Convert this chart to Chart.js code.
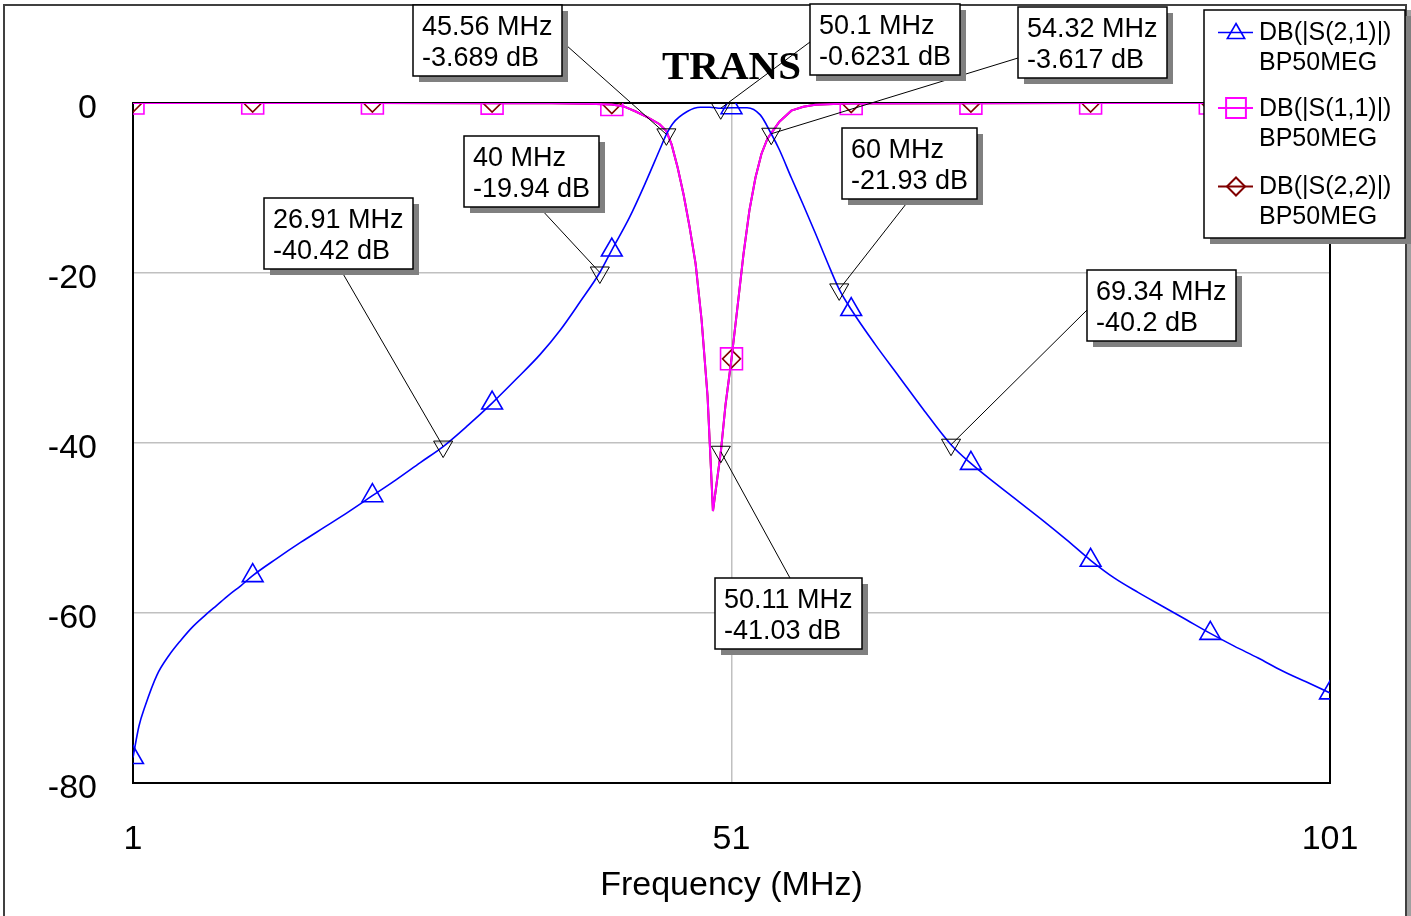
<!DOCTYPE html>
<html>
<head>
<meta charset="utf-8">
<title>TRANS</title>
<script src="https://cdn.jsdelivr.net/npm/chart.js@4.4.1/dist/chart.umd.min.js"></script>
<style>
    html, body { margin: 0; padding: 0; background: #fff; }
    canvas { display: block; }
</style>
</head>
<body>
<canvas id="trans-chart" width="1411" height="916"></canvas>
<script>
const xTicks = [1, 51, 101];
const yTicks = [0, -20, -40, -60, -80];

// DB(|S(2,1)|)
const s21Freq = [1, 1.5, 2, 3, 4, 5, 6, 7, 8, 9, 10,
    11, 13, 15, 17, 19, 21, 23, 25,
    26.91, 29, 31, 33, 35, 36.7, 38.3, 40,
    41, 42.5, 43.9, 45, 45.56, 46.1, 47.3, 48.4, 49.2, 50.1,
    51, 52.3, 53.4, 54.32, 55, 56, 57, 58, 59, 60,
    61, 63, 65, 67, 69.34, 71, 73, 75, 77, 79,
    81, 83, 85, 87, 89, 91, 93, 95, 97, 99, 101];
const s21Db = [-77.0, -73.3, -71.0, -67.3, -65.0, -63.2, -61.6, -60.3, -59.1, -57.9, -56.8,
    -55.6, -53.6, -51.7, -49.9, -48.1, -46.2, -44.3, -42.3,
    -40.42, -37.9, -35.3, -32.5, -29.6, -26.7, -23.5, -19.94,
    -17.3, -13.4, -9.1, -5.5, -3.689, -2.4, -1.0, -0.5, -0.5, -0.6231,
    -0.55, -0.55, -1.4, -3.617, -5.5, -8.8, -12.0, -15.3, -18.7, -21.93,
    -24.3, -28.4, -32.2, -36.0, -40.2, -42.4, -44.7, -46.9, -49.1, -51.4,
    -53.8, -55.9, -57.6, -59.2, -60.8, -62.4, -63.9, -65.3, -66.8, -68.1, -69.4];

// DB(|S(1,1)|)
const s11Freq = [1, 11, 21, 31, 36, 39, 41,
    42, 43, 44, 45, 45.56, 46, 46.5, 47, 47.5, 48,
    48.5, 49, 49.45, 50.11, 50.5, 51, 51.5, 52, 52.5, 53,
    53.5, 54, 54.5, 55, 56, 57, 58, 60, 61, 71,
    81, 91, 101];
const s11Db = [-0.01, -0.01, -0.01, -0.02, -0.04, -0.08, -0.18,
    -0.4, -1.0, -1.7, -2.5, -3.3, -4.9, -7.6, -10.8, -14.6, -18.9,
    -25.5, -34.5, -48.0, -41.03, -35.5, -30.1, -24.0, -17.8, -12.6, -8.8,
    -6.0, -4.2, -3.2, -2.2, -0.9, -0.45, -0.22, -0.1, -0.07, -0.02,
    -0.01, -0.01, -0.01];

// DB(|S(2,2)|) sits exactly under S(1,1) in the plot
const s22Freq = s11Freq.slice();
const s22Db = s11Db.slice();

const symbolFreqs = [1, 11, 21, 31, 41, 51, 61, 71, 81, 91, 101];

const markerFreq = [26.91, 40, 45.56, 50.1, 54.32, 60, 69.34, 50.11];
const markerDb = [-40.42, -19.94, -3.689, -0.6231, -3.617, -21.93, -40.2, -41.03];

const seriesNames = ['DB(|S(2,1)|)', 'DB(|S(1,1)|)', 'DB(|S(2,2)|)'];
const circuitName = 'BP50MEG';
const chartTitle = 'TRANS';
const xTitle = 'Frequency (MHz)';

// label box placement: [left, top, leaderX, leaderY]
const markerBoxes = [
    [264, 198, 342, 272],
    [464, 136, 540, 208],
    [413, 5, 566, 45],
    [810, 4, 810, 42],
    [1018, 7, 1018, 58],
    [842, 128, 906, 204],
    [1087, 270, 1087, 310],
    [715, 578, 790, 578],
];

const SANS = "'Liberation Sans', Arial, sans-serif";
const colors = { s21: '#0000ff', s11: '#ff00ff', s22: '#800000', grid: '#c0c0c0', shadow: '#808080' };

function points(freqs, dbs) {
    return freqs.map((f, i) => ({ x: f, y: dbs[i] }));
}

function symbolRadius(size) {
    return ctx => (ctx.raw && symbolFreqs.includes(ctx.raw.x)) ? size : 0;
}

function drawSymbol(ctx, style, x, y, r) {
    ctx.beginPath();
    if (style === 'triangle' || style === 'triangleDown') {
        const s = style === 'triangle' ? 1 : -1;
        const hw = r * Math.sqrt(3) / 2;
        ctx.moveTo(x, y - s * r);
        ctx.lineTo(x + hw, y + s * r / 2);
        ctx.lineTo(x - hw, y + s * r / 2);
        ctx.closePath();
    } else if (style === 'rect') {
        const h = r * Math.SQRT1_2;
        ctx.rect(x - h, y - h, 2 * h, 2 * h);
    } else if (style === 'rectRot') {
        ctx.moveTo(x - r, y);
        ctx.lineTo(x, y - r);
        ctx.lineTo(x + r, y);
        ctx.lineTo(x, y + r);
        ctx.closePath();
    }
    ctx.stroke();
}

const framePlugin = {
    id: 'frame',
    beforeDraw(chart) {
        const { ctx, width, height } = chart;
        ctx.save();
        ctx.fillStyle = '#fff';
        ctx.fillRect(0, 0, width, height);
        ctx.fillStyle = '#a0a0a0';
        ctx.fillRect(1407, 10, 4, height - 10);
        ctx.strokeStyle = '#404040';
        ctx.lineWidth = 2;
        ctx.strokeRect(4, 5, 1402, height + 10);
        ctx.restore();
    },
    beforeDatasetsDraw(chart) {
        const { ctx, chartArea: a } = chart;
        ctx.save();
        ctx.strokeStyle = '#000';
        ctx.lineWidth = 2;
        ctx.strokeRect(a.left, a.top, a.right - a.left, a.bottom - a.top);
        ctx.restore();
    },
};

const markerPlugin = {
    id: 'markers',
    afterDatasetsDraw(chart) {
        const { ctx, scales: { x, y } } = chart;
        ctx.save();
        ctx.strokeStyle = '#000';
        ctx.lineWidth = 1;
        const pts = markerFreq.map((f, i) => [x.getPixelForValue(f), y.getPixelForValue(markerDb[i])]);
        pts.forEach(([px, py], i) => {
            const [, , lx, ly] = markerBoxes[i];
            ctx.beginPath();
            ctx.moveTo(lx, ly);
            ctx.lineTo(px, py);
            ctx.stroke();
            drawSymbol(ctx, 'triangleDown', px, py, 11);
        });

        ctx.font = `27px ${SANS}`;
        ctx.textBaseline = 'middle';
        ctx.textAlign = 'left';
        markerFreq.forEach((f, i) => {
            const [bx, by] = markerBoxes[i];
            const lines = [`${f} MHz`, `${markerDb[i]} dB`];
            const w = Math.round(Math.max(...lines.map(t => ctx.measureText(t).width)) + 18);
            const h = 71;
            ctx.fillStyle = colors.shadow;
            ctx.fillRect(bx + 6, by + 6, w, h);
            ctx.fillStyle = '#fff';
            ctx.fillRect(bx, by, w, h);
            ctx.lineWidth = 1.5;
            ctx.strokeRect(bx, by, w, h);
            ctx.fillStyle = '#000';
            ctx.fillText(lines[0], bx + 9, by + 23);
            ctx.fillText(lines[1], bx + 9, by + 54);
        });
        ctx.restore();
    },
};

const legendPlugin = {
    id: 'plotLegend',
    afterDraw(chart) {
        const { ctx } = chart;
        const left = 1204, top = 10, w = 201, h = 228;
        ctx.save();
        ctx.fillStyle = colors.shadow;
        ctx.fillRect(left + 6, top + 6, w, h);
        ctx.fillStyle = '#fff';
        ctx.fillRect(left, top, w, h);
        ctx.strokeStyle = '#000';
        ctx.lineWidth = 1.5;
        ctx.strokeRect(left, top, w, h);

        const entries = [
            { color: colors.s21, style: 'triangle', r: 10, y: 32.5, width: 1.6 },
            { color: colors.s11, style: 'rect', r: 14, y: 108, width: 2 },
            { color: colors.s22, style: 'rectRot', r: 9, y: 186.5, width: 2 },
        ];
        ctx.font = `25px ${SANS}`;
        ctx.textBaseline = 'middle';
        entries.forEach((e, i) => {
            ctx.strokeStyle = e.color;
            ctx.lineWidth = e.width;
            ctx.beginPath();
            ctx.moveTo(1218, e.y);
            ctx.lineTo(1253, e.y);
            ctx.stroke();
            drawSymbol(ctx, e.style, 1236, e.style === 'triangle' ? e.y + 1 : e.y, e.r);
            ctx.fillStyle = '#000';
            ctx.fillText(seriesNames[i], 1259, e.y + 1);
            ctx.fillText(circuitName, 1259, e.y + 31);
        });
        ctx.restore();
    },
};

const chart = new Chart(document.getElementById('trans-chart'), {
    type: 'line',
    data: {
        datasets: [
            {
                label: seriesNames[0],
                data: points(s21Freq, s21Db),
                borderColor: colors.s21,
                borderWidth: 1.6,
                cubicInterpolationMode: 'monotone',
                pointStyle: 'triangle',
                pointRadius: symbolRadius(12),
                pointBorderColor: colors.s21,
                pointBackgroundColor: 'rgba(0,0,0,0)',
                pointBorderWidth: 1.6,
                order: 1,
            },
            {
                label: seriesNames[1],
                data: points(s11Freq, s11Db),
                borderColor: colors.s11,
                borderWidth: 2,
                pointStyle: 'rect',
                pointRadius: symbolRadius(15.5),
                pointBorderColor: colors.s11,
                pointBackgroundColor: 'rgba(0,0,0,0)',
                pointBorderWidth: 1.6,
                order: 2,
            },
            {
                label: seriesNames[2],
                data: points(s22Freq, s22Db),
                borderColor: colors.s22,
                borderWidth: 2,
                pointStyle: 'rectRot',
                pointRadius: symbolRadius(9),
                pointBorderColor: colors.s22,
                pointBackgroundColor: 'rgba(0,0,0,0)',
                pointBorderWidth: 1.6,
                order: 3,
            },
        ],
    },
    options: {
        responsive: false,
        animation: false,
        devicePixelRatio: 1,
        events: [],
        layout: { padding: { top: 1, right: 81, left: 0, bottom: 0 } },
        plugins: {
            legend: { display: false },
            tooltip: { enabled: false },
            title: {
                display: true,
                text: chartTitle,
                fullSize: false,
                color: '#000',
                font: { family: "'Liberation Serif', 'Times New Roman', serif", size: 41, weight: 'bold', lineHeight: 1 },
                padding: { top: 47, bottom: 14 },
            },
        },
        scales: {
            x: {
                type: 'linear',
                min: 1,
                max: 101,
                afterBuildTicks: s => { s.ticks = xTicks.map(v => ({ value: v })); },
                afterFit: s => { s.height = 133; },
                border: { display: false },
                grid: {
                    drawTicks: false,
                    lineWidth: 1.5,
                    color: c => (c.tick && c.tick.value === 51) ? colors.grid : 'rgba(0,0,0,0)',
                },
                ticks: {
                    color: '#000',
                    font: { family: SANS, size: 34 },
                    padding: 36,
                    maxRotation: 0,
                    autoSkip: false,
                },
                title: {
                    display: true,
                    text: xTitle,
                    color: '#000',
                    font: { family: SANS, size: 34 },
                    padding: { top: 0, bottom: 10 },
                },
            },
            y: {
                min: -80,
                max: 0,
                afterBuildTicks: s => { s.ticks = yTicks.map(v => ({ value: v })); },
                afterFit: s => { s.width = 133; },
                border: { display: false },
                grid: {
                    drawTicks: false,
                    lineWidth: 1.5,
                    color: c => (c.tick && c.tick.value > -80 && c.tick.value < 0) ? colors.grid : 'rgba(0,0,0,0)',
                },
                ticks: {
                    color: '#000',
                    font: { family: SANS, size: 34 },
                    padding: 36,
                    labelOffset: 6,
                },
            },
        },
    },
    plugins: [framePlugin, markerPlugin, legendPlugin],
});
</script>
</body>
</html>
